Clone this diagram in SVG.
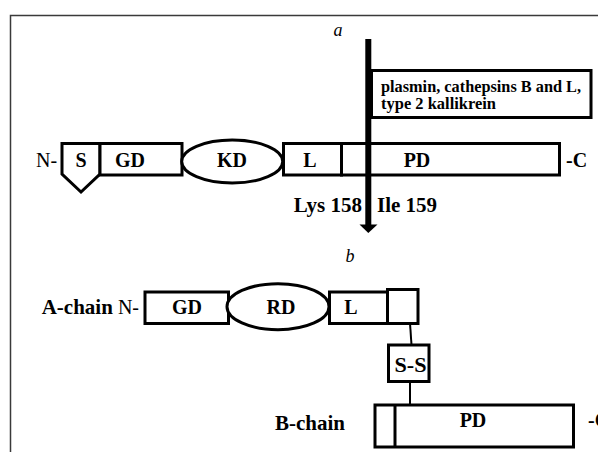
<svg xmlns="http://www.w3.org/2000/svg" width="598" height="452" viewBox="0 0 598 452">
<style>
.box{fill:#fff;stroke:#000;stroke-width:3}
text{font-family:'Liberation Serif','DejaVu Serif',serif}
.t{font-size:20px;font-weight:bold;fill:#000}
.t2{font-size:21px;font-weight:bold;fill:#000}
.r{font-size:20px;fill:#000}
.i{font-size:18px;font-style:italic;fill:#000}
.lbl{font-size:17px;font-weight:bold;fill:#000}
.con{stroke:#000;stroke-width:2;fill:none}
</style>
<rect width="598" height="452" fill="#fff"/>
<path d="M10.5 452 V15.5 H598" fill="none" stroke="#3a3a3a" stroke-width="1.5"/>
<text class="i" x="338" y="36" text-anchor="middle">a</text>
<text class="i" x="350" y="262" text-anchor="middle">b</text>

<g id="precursor">
  <text class="r" x="36" y="167">N-</text>
  <g id="S"><polygon class="box" points="62,143.5 100,143.5 100,174 81,192 62,174"/><text class="t" x="81" y="167" text-anchor="middle">S</text></g>
  <g id="GD"><rect class="box" x="100" y="143.5" width="82" height="31.5"/><text class="t" x="130" y="167" text-anchor="middle">GD</text></g>
  <g id="L"><rect class="box" x="283.5" y="143.5" width="58" height="31.5"/><text class="t" x="310" y="167" text-anchor="middle">L</text></g>
  <g id="PD"><rect class="box" x="341.5" y="143.5" width="218" height="31.5"/><text class="t" x="417" y="167" text-anchor="middle">PD</text></g>
  <g id="KD"><ellipse class="box" cx="232.2" cy="161.5" rx="50.5" ry="21.5"/><text class="t" x="232" y="167" text-anchor="middle">KD</text></g>
  <text class="t" x="566" y="167">-C</text>
</g>

<g id="cleavage">
  <rect x="365.3" y="39" width="6" height="187" fill="#000"/>
  <polygon points="359.5,224.5 377.5,224.5 368.3,233" fill="#000"/>
  <g id="proteases">
    <rect class="box" x="371.5" y="70.5" width="219.5" height="47"/>
    <text class="lbl" x="381" y="92" textLength="200" lengthAdjust="spacingAndGlyphs">plasmin, cathepsins B and L,</text>
    <text class="lbl" x="381" y="109" textLength="115" lengthAdjust="spacingAndGlyphs">type 2 kallikrein</text>
  </g>
  <text class="t2" x="362" y="212" text-anchor="end">Lys 158</text>
  <text class="t2" x="377" y="212">Ile 159</text>
</g>

<g id="connectors">
  <line class="con" x1="410" y1="323" x2="411.5" y2="345"/>
  <line class="con" x1="410" y1="382" x2="410" y2="405"/>
</g>

<g id="A-chain">
  <text x="139" y="313.5" text-anchor="end"><tspan class="t2">A-chain</tspan><tspan class="r"> N-</tspan></text>
  <g id="A-GD"><rect class="box" x="145" y="292" width="83.5" height="31.5"/><text class="t" x="187" y="313.5" text-anchor="middle">GD</text></g>
  <g id="A-L"><rect class="box" x="329.5" y="292" width="58" height="31.5"/><text class="t" x="351" y="313.5" text-anchor="middle">L</text></g>
  <g id="A-end"><rect class="box" x="387.5" y="289.5" width="30.5" height="34"/></g>
  <g id="RD"><ellipse class="box" cx="278" cy="306.7" rx="51" ry="23"/><text class="t" x="281" y="313.5" text-anchor="middle">RD</text></g>
</g>

<g id="SS"><rect class="box" x="388.5" y="345" width="40.5" height="36.5"/><text class="t" x="410.5" y="371.5" text-anchor="middle" textLength="32" lengthAdjust="spacingAndGlyphs">S-S</text></g>

<g id="B-chain">
  <text class="t2" x="275" y="430">B-chain</text>
  <rect class="box" x="375" y="405" width="198.5" height="42"/>
  <line x1="395" y1="405" x2="395" y2="447" stroke="#000" stroke-width="3"/>
  <text class="t" x="473" y="427" text-anchor="middle">PD</text>
  <text class="t" x="588" y="427">-C</text>
</g>
</svg>
